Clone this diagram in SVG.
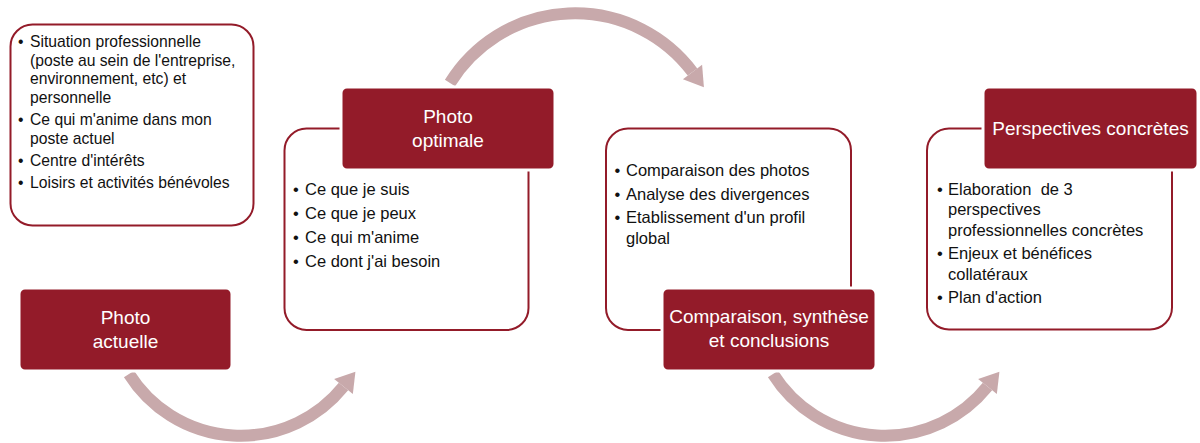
<svg xmlns="http://www.w3.org/2000/svg" width="1200" height="443" viewBox="0 0 1200 443">
<style>
.card{fill:#ffffff;stroke:#931b29;stroke-width:2}
.head{fill:#931b29;stroke:#ffffff;stroke-width:3}
.htxt{font-family:"Liberation Sans",Arial,sans-serif;font-size:19px;fill:#ffffff;text-anchor:middle}
.btxt{font-family:"Liberation Sans",Arial,sans-serif;font-size:16.5px;fill:#111111}
.btxt1{font-family:"Liberation Sans",Arial,sans-serif;font-size:15.7px;fill:#111111}
.arc{fill:none;stroke:#c8a9ab;stroke-width:12;stroke-linecap:butt}
</style>
<defs>
<marker id="head" markerUnits="userSpaceOnUse" viewBox="0 -12 20 24" refX="0" refY="0" markerWidth="20" markerHeight="24" orient="auto" overflow="visible">
<path d="M0,-12 L19,0 L0,12 Z" fill="#c8a9ab"/>
</marker>
</defs>
<g id="connectors">
<path class="arc" d="M129,374 A132,132 0 0 0 343.5,386.5" marker-end="url(#head)"/>
<path class="arc" d="M450,83 A147,147 0 0 1 692.5,72" marker-end="url(#head)"/>
<path class="arc" d="M773,374 A132,132 0 0 0 987.5,386.5" marker-end="url(#head)"/>
</g>
<g id="node-situation">
<rect class="card" x="10.5" y="24.5" width="243" height="201" rx="22"/>
<text class="btxt1">
<tspan x="18" y="47">•</tspan><tspan x="30" y="47">Situation professionnelle</tspan>
<tspan x="30" y="65.5">(poste au sein de l'entreprise,</tspan>
<tspan x="30" y="84">environnement, etc) et</tspan>
<tspan x="30" y="102.5">personnelle</tspan>
<tspan x="18" y="125">•</tspan><tspan x="30" y="125">Ce qui m'anime dans mon</tspan>
<tspan x="30" y="143.5">poste actuel</tspan>
<tspan x="18" y="166">•</tspan><tspan x="30" y="166">Centre d'intérêts</tspan>
<tspan x="18" y="188">•</tspan><tspan x="30" y="188">Loisirs et activités bénévoles</tspan>
</text>
</g>
<g id="node-photo-actuelle">
<rect class="head" x="19" y="288" width="213" height="83" rx="6"/>
<text class="htxt"><tspan x="125.5" y="324">Photo</tspan><tspan x="125.5" y="348">actuelle</tspan></text>
</g>
<g id="node-photo-optimale">
<rect class="card" x="284.5" y="128.5" width="244" height="201.5" rx="22"/>
<rect class="head" x="341" y="87" width="214" height="83" rx="6"/>
<text class="htxt"><tspan x="448" y="123">Photo</tspan><tspan x="448" y="147">optimale</tspan></text>
<text class="btxt">
<tspan x="293" y="195">•</tspan><tspan x="305" y="195">Ce que je suis</tspan>
<tspan x="293" y="219">•</tspan><tspan x="305" y="219">Ce que je peux</tspan>
<tspan x="293" y="243">•</tspan><tspan x="305" y="243">Ce qui m'anime</tspan>
<tspan x="293" y="267">•</tspan><tspan x="305" y="267">Ce dont j'ai besoin</tspan>
</text>
</g>
<g id="node-comparaison">
<rect class="card" x="606" y="128.5" width="245" height="201.5" rx="22"/>
<rect class="head" x="662" y="288" width="214" height="83" rx="6"/>
<text class="htxt"><tspan x="769" y="323">Comparaison, synthèse</tspan><tspan x="769" y="347">et conclusions</tspan></text>
<text class="btxt">
<tspan x="614.5" y="176">•</tspan><tspan x="626" y="176">Comparaison des photos</tspan>
<tspan x="614.5" y="199.5">•</tspan><tspan x="626" y="199.5">Analyse des divergences</tspan>
<tspan x="614.5" y="223">•</tspan><tspan x="626" y="223">Etablissement d'un profil</tspan>
<tspan x="626" y="243.5">global</tspan>
</text>
</g>
<g id="node-perspectives">
<rect class="card" x="927" y="128.5" width="245" height="201" rx="22"/>
<rect class="head" x="983" y="87" width="215" height="83" rx="6"/>
<text class="htxt"><tspan x="1090.5" y="135">Perspectives concrètes</tspan></text>
<text class="btxt" xml:space="preserve"><tspan x="937" y="194.5">•</tspan><tspan x="948" y="194.5">Elaboration  de 3</tspan><tspan x="948" y="215">perspectives</tspan><tspan x="948" y="235.5">professionnelles concrètes</tspan><tspan x="937" y="259">•</tspan><tspan x="948" y="259">Enjeux et bénéfices</tspan><tspan x="948" y="279.5">collatéraux</tspan><tspan x="937" y="302.5">•</tspan><tspan x="948" y="302.5">Plan d'action</tspan></text>
</g>
</svg>
